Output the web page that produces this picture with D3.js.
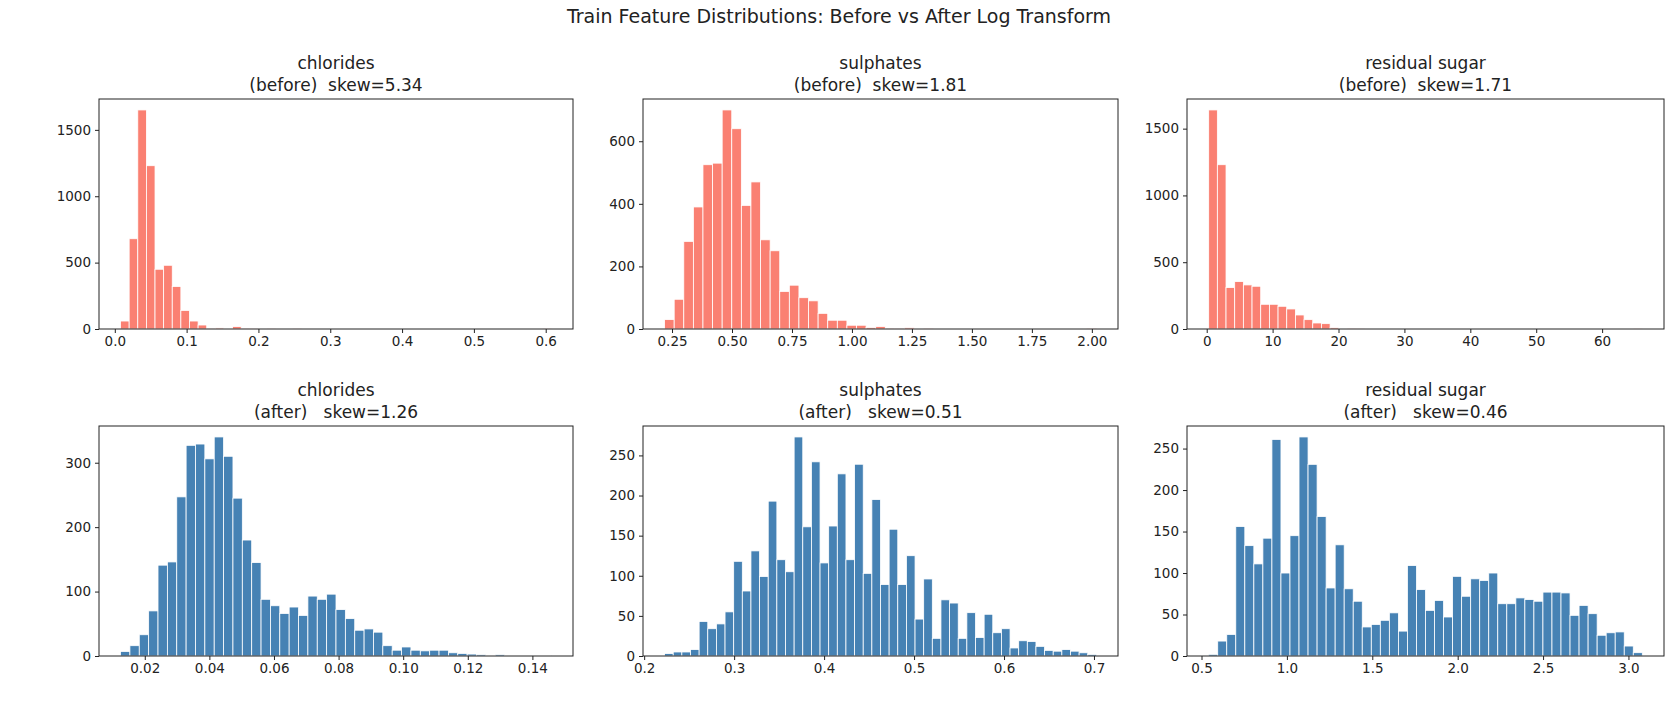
<!DOCTYPE html>
<html>
<head>
<meta charset="utf-8">
<script src="https://cdn.jsdelivr.net/npm/d3@7"></script>
<style>
  body { margin: 0; background: #fff; }
  text { font-family: "DejaVu Sans", sans-serif; fill: #222; }
</style>
</head>
<body>
<div id="chart"></div>
<script>
// bin counts (left to right)
const chloridesBefore = [60, 680, 1650, 1230, 450, 480, 320, 140, 60, 30, 3, 8, 6, 18, 2, 1, 0, 1, 0, 0,
  1, 0, 0, 0, 0, 0, 0, 0, 0, 0, 0, 0, 0, 0, 0, 0, 0, 0, 0, 0, 0, 0, 0, 0, 0, 0, 0, 0, 0, 1];
const sulphatesBefore = [30, 95, 280, 390, 525, 530, 700, 640, 395, 470, 285, 250, 120, 140, 100, 90, 50, 28,
  28, 12, 12, 5, 8, 3, 1, 4, 0, 1, 0, 0, 0, 0, 0, 0, 0, 0, 0, 0, 0, 0, 0, 0, 0, 0, 1];
const sugarBefore = [1640, 1230, 310, 355, 330, 320, 185, 185, 170, 150, 105, 70, 45, 40, 10, 3, 2, 1, 0, 0,
  0, 0, 0, 0, 0, 0, 0, 0, 0, 0, 0, 0, 0, 0, 0, 0, 0, 0, 0, 0, 0, 0, 0, 0, 0, 0, 0, 0, 0, 1];
const chloridesAfter = [7, 16, 33, 70, 141, 146, 247, 327, 329, 306, 340, 310, 245, 180, 145, 88, 78, 66, 76,
  63, 93, 88, 96, 72, 58, 40, 42, 37, 16, 9, 14, 9, 8, 9, 9, 5, 4, 3, 2, 1, 2, 1, 0, 1, 1, 1];
const sulphatesAfter = [3, 5, 5, 8, 43, 34, 40, 55, 118, 81, 131, 99, 193, 120, 105, 273, 161, 242, 116, 162,
  227, 120, 239, 103, 195, 89, 158, 89, 125, 46, 96, 22, 70, 66, 22, 54, 23, 52, 29, 34, 10, 19, 18, 12, 7, 6, 8, 6, 4, 2];
const sugarAfter = [2, 18, 26, 156, 133, 111, 142, 261, 100, 145, 264, 231, 168, 82, 134, 81, 66, 35, 38, 43,
  52, 30, 109, 80, 55, 67, 47, 96, 72, 93, 91, 100, 63, 63, 70, 68, 66, 77, 77, 76, 49, 61, 51, 25, 28, 29, 12, 4];

const features = ["chlorides", "sulphates", "residual sugar"];
const skewBefore = ["5.34", "1.81", "1.71"];
const skewAfter = ["1.26", "0.51", "0.46"];

// bin start and width per panel
const binBefore = [[0.008, 0.012], [0.219, 0.04], [0.3, 1.316]];
const binAfter = [[0.0125, 0.0029], [0.2227, 0.0096], [0.542, 0.0529]];

const xTicksBefore = [[0, 0.1, 0.2, 0.3, 0.4, 0.5, 0.6], [0.25, 0.5, 0.75, 1, 1.25, 1.5, 1.75, 2], [0, 10, 20, 30, 40, 50, 60]];
const xTicksAfter = [[0.02, 0.04, 0.06, 0.08, 0.1, 0.12, 0.14], [0.2, 0.3, 0.4, 0.5, 0.6, 0.7], [0.5, 1, 1.5, 2, 2.5, 3]];
const xFmtBefore = [".1f", ".2f", "d"];
const xFmtAfter = [".2f", ".1f", ".1f"];
const yTicksBefore = [[0, 500, 1000, 1500], [0, 200, 400, 600], [0, 500, 1000, 1500]];
const yTicksAfter = [[0, 100, 200, 300], [0, 50, 100, 150, 200, 250], [0, 50, 100, 150, 200, 250]];

const width = 1678, height = 713;
const svg = d3.select("#chart").append("svg")
  .attr("width", width).attr("height", height);

svg.append("text")
  .attr("x", 839).attr("y", 23)
  .attr("text-anchor", "middle")
  .attr("font-size", "19px")
  .text("Train Feature Distributions: Before vs After Log Transform");

const colX = [[99, 573], [643, 1118], [1187, 1664]];
const rowY = [[99, 329], [426, 656]];

function panel(col, row, counts, bin, xt, xf, yt, skew, color, label) {
  const [x0, x1] = colX[col];
  const [y0, y1] = rowY[row];
  const lo = bin[0], hi = bin[0] + bin[1] * counts.length;
  const pad = (hi - lo) * 0.05;
  const x = d3.scaleLinear().domain([lo - pad, hi + pad]).range([x0, x1]);
  const y = d3.scaleLinear().domain([0, d3.max(counts) * 1.05]).range([y1, y0]);
  const g = svg.append("g");

  const bins = counts.map((c, i) => ({ a: lo + i * bin[1], b: lo + (i + 1) * bin[1], c }));
  g.selectAll("rect").data(bins.filter(d => d.c > 0)).join("rect")
    .attr("x", d => x(d.a))
    .attr("width", d => x(d.b) - x(d.a))
    .attr("y", d => y(d.c))
    .attr("height", d => y(0) - y(d.c))
    .attr("fill", color)
    .attr("stroke", "white")
    .attr("stroke-width", 0.8);

  g.append("rect")
    .attr("x", x0).attr("y", y0)
    .attr("width", x1 - x0).attr("height", y1 - y0)
    .attr("fill", "none").attr("stroke", "#222").attr("stroke-width", 1);

  const xa = g.append("g").attr("transform", `translate(0,${y1})`)
    .call(d3.axisBottom(x).tickValues(xt).tickFormat(d3.format(xf)).tickSizeOuter(0).tickSize(4));
  const ya = g.append("g").attr("transform", `translate(${x0},0)`)
    .call(d3.axisLeft(y).tickValues(yt).tickFormat(d3.format("d")).tickSizeOuter(0).tickSize(4));
  [xa, ya].forEach(a => {
    a.select(".domain").remove();
    a.selectAll("text").attr("font-size", "13.5px").attr("fill", "#222")
      .attr("font-family", "DejaVu Sans, sans-serif");
    a.selectAll("line").attr("stroke", "#222");
  });
  ya.selectAll("text").attr("dx", "-1");

  const cx = (x0 + x1) / 2;
  g.append("text").attr("x", cx).attr("y", y0 - 30)
    .attr("text-anchor", "middle").attr("font-size", "17px").text(features[col]);
  g.append("text").attr("x", cx).attr("y", y0 - 8)
    .attr("text-anchor", "middle").attr("font-size", "17px")
    .attr("xml:space", "preserve")
    .text(label + skew);
}

const before = [chloridesBefore, sulphatesBefore, sugarBefore];
const after = [chloridesAfter, sulphatesAfter, sugarAfter];
for (let i = 0; i < 3; i++) {
  panel(i, 0, before[i], binBefore[i], xTicksBefore[i], xFmtBefore[i], yTicksBefore[i], skewBefore[i], "#fa8072", "(before)  skew=");
  panel(i, 1, after[i], binAfter[i], xTicksAfter[i], xFmtAfter[i], yTicksAfter[i], skewAfter[i], "#4682b4", "(after)   skew=");
}
</script>
</body>
</html>
